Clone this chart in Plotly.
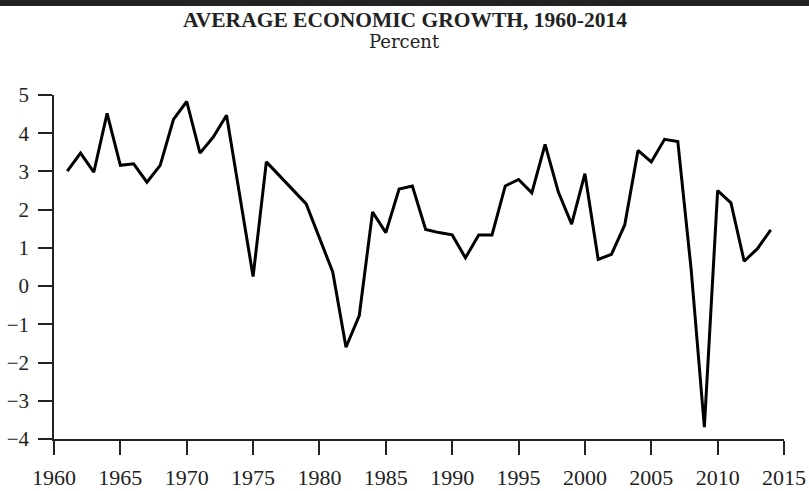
import plotly.graph_objects as go

years = [1961, 1962, 1963, 1964, 1965, 1966, 1967, 1968, 1969, 1970,
         1971, 1972, 1973, 1975, 1976, 1979, 1981, 1982, 1983, 1984,
         1985, 1986, 1987, 1988, 1989, 1990, 1991, 1992, 1993, 1994,
         1995, 1996, 1997, 1998, 1999, 2000, 2001, 2002, 2003, 2004,
         2005, 2006, 2007, 2008, 2009, 2010, 2011, 2012, 2013, 2014]
growth = [3.01, 3.48, 2.98, 4.52, 3.16, 3.20, 2.72, 3.16, 4.36, 4.83,
          3.48, 3.90, 4.47, 0.25, 3.25, 2.15, 0.37, -1.60, -0.77, 1.94,
          1.40, 2.54, 2.62, 1.48, 1.40, 1.34, 0.74, 1.34, 1.34, 2.62,
          2.79, 2.44, 3.71, 2.46, 1.62, 2.94, 0.70, 0.83, 1.60, 3.55,
          3.25, 3.84, 3.78, 0.45, -3.69, 2.50, 2.18, 0.65, 0.98, 1.47]

x_ticks = list(range(1960, 2016, 5))
y_ticks = [-4, -3, -2, -1, 0, 1, 2, 3, 4, 5]

title_text = "AVERAGE ECONOMIC GROWTH, 1960-2014"
subtitle_text = "Percent"

L, R, T, B = 54, 25, 95, 52
W, H = 809, 491
PH = H - T - B
PW = W - L - R

fig = go.Figure()
fig.add_trace(go.Scatter(x=years, y=growth, mode="lines",
                         line=dict(color="black", width=3),
                         hoverinfo="skip", showlegend=False))

axis_common = dict(showgrid=False, zeroline=False, showline=True,
                   linecolor="#222", linewidth=1.5, ticks="outside",
                   ticklen=14, tickwidth=1.5, tickcolor="#222",
                   automargin=False)

fig.update_layout(
    width=W, height=H,
    margin=dict(l=L, r=R, t=T, b=B),
    paper_bgcolor="white", plot_bgcolor="white",
    xaxis=dict(range=[1960, 2015], tickvals=x_ticks, ticklabelstandoff=4,
               tickfont=dict(family="Liberation Serif", size=22, color="#222"),
               **axis_common),
    yaxis=dict(range=[-4, 5], tickvals=y_ticks, ticklabelstandoff=5,
               tickfont=dict(family="Liberation Serif", size=21, color="#222"),
               **axis_common),
    shapes=[dict(type="rect", xref="paper", yref="paper",
                 x0=-0.2, x1=1.2, y0=1 + (T - 6) / PH, y1=1 + (T + 10) / PH,
                 fillcolor="#222", line=dict(width=0),
                 layer="above")],
    annotations=[
        dict(text="<b>" + title_text + "</b>", xref="paper", yref="paper",
             x=(404.5 - L) / PW, y=1.0, yshift=T - 20, showarrow=False,
             xanchor="center", yanchor="middle",
             font=dict(family="Liberation Serif", size=21.5, color="#222")),
        dict(text=subtitle_text, xref="paper", yref="paper",
             x=(404.5 - L) / PW, y=1.0, yshift=T - 41, showarrow=False,
             xanchor="center", yanchor="middle",
             font=dict(family="DejaVu Serif", size=18, color="#222")),
    ],
)

fig.write_html("out.html", config={"displayModeBar": False},
               post_script="document.body.style.margin='0';")
